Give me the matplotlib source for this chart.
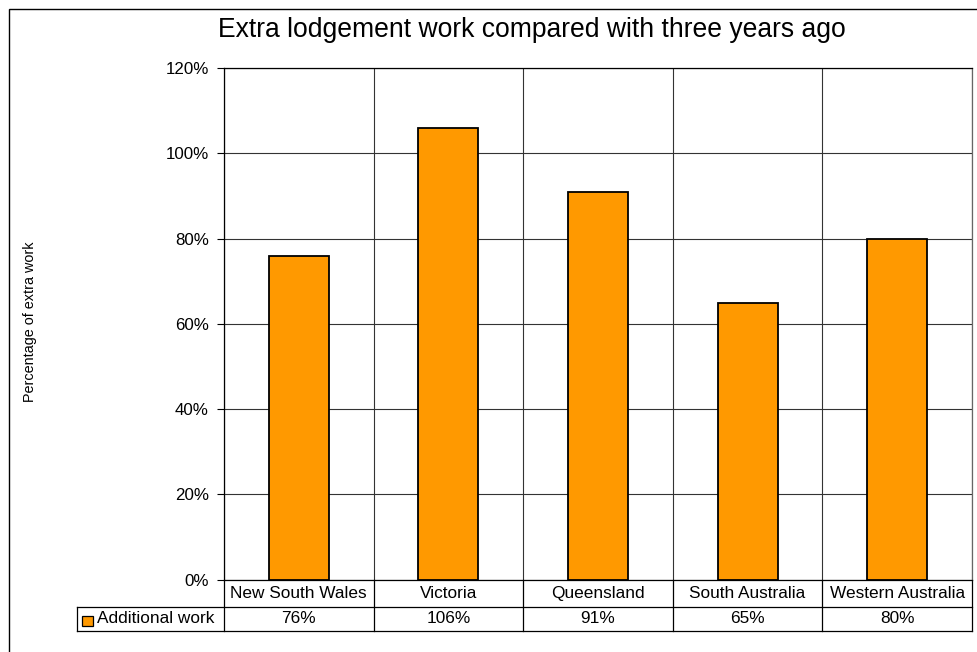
"""
Extra lodgement work compared with three years ago
Excel-style column chart with a data table underneath.
"""

import matplotlib
matplotlib.use("Agg")
import matplotlib.pyplot as plt
from matplotlib.lines import Line2D
from matplotlib.patches import Rectangle
from matplotlib.ticker import FuncFormatter

# ---------------------------------------------------------------------------
# Data
# ---------------------------------------------------------------------------
STATES = ["New South Wales", "Victoria", "Queensland", "South Australia",
          "Western Australia"]
EXTRA_WORK = [0.76, 1.06, 0.91, 0.65, 0.80]
VALUE_LABELS = ["76%", "106%", "91%", "65%", "80%"]
SERIES_NAME = "Additional work"
Y_TICKS = [0.0, 0.2, 0.4, 0.6, 0.8, 1.0, 1.2]

BAR_COLOR = "#FF9900"
LINE_COLOR = "#000000"
TABLE_FS = 12.4

plt.rcParams["font.family"] = ["Liberation Sans", "DejaVu Sans"]

W, H = 978, 652
fig = plt.figure(figsize=(W / 100, H / 100), dpi=100)

# plot area in pixels: x 224..972, y 68.3..579.5
ax = fig.add_axes([224 / W, (H - 579.5) / H, 748 / W, 511.2 / H])

x = list(range(len(STATES)))
ax.bar(x, EXTRA_WORK, width=0.4, color=BAR_COLOR, edgecolor="#000000",
       linewidth=1.3, zorder=3)

ax.set_xlim(-0.5, len(STATES) - 0.5)
ax.set_ylim(0, 1.2)
ax.set_yticks(Y_TICKS)
ax.yaxis.set_major_formatter(FuncFormatter(lambda v, _: f"{v * 100:.0f}%"))
ax.tick_params(axis="y", direction="out", length=5, width=0.8, pad=6,
               labelsize=12.2, colors="#000000")
ax.set_xticks([])

# gridlines: horizontal at each tick, vertical between categories
ax.grid(axis="y", color="#333333", linewidth=0.8, zorder=0)
for i in range(len(STATES) + 1):
    ax.axvline(i - 0.5, color="#333333", linewidth=0.8, zorder=1)

for side in ["top", "right", "bottom", "left"]:
    ax.spines[side].set_color(LINE_COLOR)
    ax.spines[side].set_linewidth(0.9)
ax.spines["right"].set_color("#666666")

# ---------------------------------------------------------------------------
# Data table below the plot area
# ---------------------------------------------------------------------------
r1 = -27.2 / 511.2     # bottom of category row
r2 = -51.5 / 511.2     # bottom of value row
left = -146.7 / 748    # left edge of the legend cell (axes fraction)
xtrans = ax.get_xaxis_transform()

for i in range(len(STATES) + 1):
    ax.add_line(Line2D([i - 0.5, i - 0.5], [0, r2], transform=xtrans,
                       color=LINE_COLOR, linewidth=0.9, clip_on=False))
for yy in (r1, r2):
    ax.add_line(Line2D([left, 1], [yy, yy], transform=ax.transAxes,
                       color=LINE_COLOR, linewidth=0.9, clip_on=False))
ax.add_line(Line2D([left, left], [r1, r2], transform=ax.transAxes,
                   color=LINE_COLOR, linewidth=0.9, clip_on=False))

for i, (state, lab) in enumerate(zip(STATES, VALUE_LABELS)):
    ax.text(i, r1 / 2, state, transform=xtrans, ha="center", va="center",
            fontsize=TABLE_FS)
    ax.text(i, (r1 + r2) / 2, lab, transform=xtrans, ha="center",
            va="center", fontsize=TABLE_FS)

# legend key inside the row-label cell
ax.add_patch(Rectangle((-142.3 / 748, -46.5 / 511.2), 11 / 748, 10 / 511.2,
                       transform=ax.transAxes, facecolor=BAR_COLOR,
                       edgecolor="#000000", linewidth=0.9, clip_on=False))
ax.text(-127.3 / 748, (r1 + r2) / 2, SERIES_NAME, transform=ax.transAxes,
        ha="left", va="center", fontsize=TABLE_FS)

# ---------------------------------------------------------------------------
# Title, axis label and chart border
# ---------------------------------------------------------------------------
fig.text(532 / W, 1 - 30 / H, "Extra lodgement work compared with three years ago",
         ha="center", va="center", fontsize=19.1)
fig.text(30 / W, 1 - 322 / H, "Percentage of extra work", rotation=90,
         ha="center", va="center", fontsize=10.4)

fig.patches.append(Rectangle((8.5 / W, -0.1), 1.2, 1.1 - 8.5 / H,
                             transform=fig.transFigure, fill=False,
                             edgecolor="#000000", linewidth=1.0))

fig.savefig("out.png", dpi=100, facecolor="white")
